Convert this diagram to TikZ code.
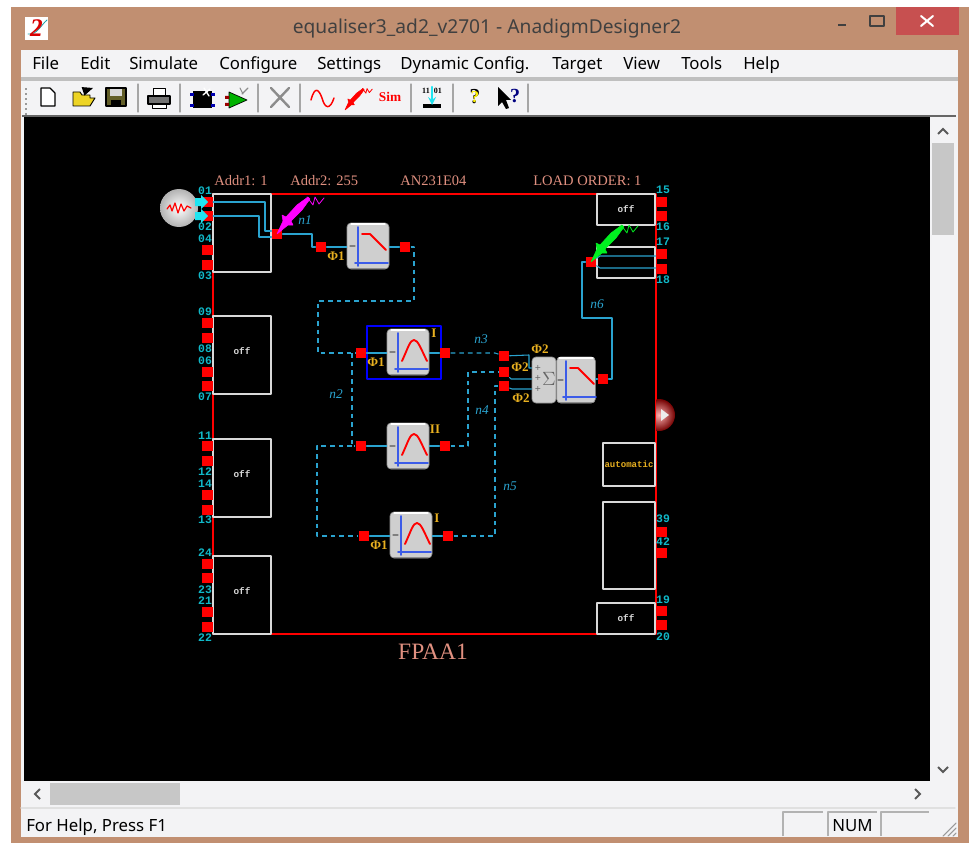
\documentclass[tikz,border=0pt]{standalone}
\usepackage{fontspec}
\setmainfont{Liberation Serif}
\newfontfamily\uifont{Noto Sans}
\newfontfamily\pixfont{Liberation Mono}
\usetikzlibrary{arrows}
\definecolor{framebrown}{HTML}{C18F71}
\definecolor{closered}{HTML}{C75050}
\definecolor{clientgray}{HTML}{F3F3F5}
\definecolor{wirecyan}{HTML}{2AA3CF}
\definecolor{labelcyan}{HTML}{10B8C8}
\definecolor{arrowcyan}{HTML}{20E4F0}
\definecolor{salmon}{HTML}{E09080}
\definecolor{phiyellow}{HTML}{E8B020}
\definecolor{blockgray}{HTML}{CFCFCF}
\definecolor{axisblue}{HTML}{3C5CE8}
\definecolor{probepink}{HTML}{FF00FF}
\definecolor{probegreen}{HTML}{00F020}

\begin{document}
\begin{tikzpicture}[line cap=round,line join=round,>=triangle 45, x=0.75pt, y=-0.75pt]
\tikzset{
    uitext/.style=    {font=\uifont\fontsize{12.6}{14}\selectfont, text=black, inner sep=0pt, anchor=base west},
    padnode/.style=   {fill=red, draw=none, minimum size=8pt, inner sep=0pt},
    padlabel/.style=  {font=\pixfont\bfseries\fontsize{8.6}{9}\selectfont, text=labelcyan, inner sep=0pt},
    headtext/.style=  {font=\fontsize{10.9}{12}\selectfont, text=salmon, inner sep=0pt, anchor=west},
    netname/.style=   {font=\itshape\fontsize{10}{10}\selectfont, text=wirecyan, inner sep=0pt},
    phitext/.style=   {font=\bfseries\fontsize{9.8}{10}\selectfont, text=phiyellow, inner sep=0pt},
    ioframe/.style=   {draw=white!85!black, line width=1pt, fill=black, inner sep=0pt, line cap=butt},
    offtext/.style=   {font=\pixfont\bfseries\fontsize{7}{7}\selectfont, text=white!85!black, inner sep=0pt},
    wire/.style=      {draw=wirecyan, line width=0.8pt},
    dashwire/.style=  {draw=wirecyan, line width=0.8pt, dash pattern=on 3.5pt off 3pt, line cap=butt},
    blocknode/.style= {fill=blockgray, draw=black!30!blockgray, line width=0.5pt, rounded corners=3pt, minimum width=31.5pt, minimum height=34.5pt, inner sep=0pt},
    chevron/.style=   {draw=black!65, line width=1.5pt, line cap=butt, line join=miter},
    lowpass/.pic=     {
        \draw[white, line width=1pt] (-17,-22) -- (17,-22);
        \draw[black!45, line width=1pt] (-17,22.5) -- (17,22.5);
        \draw[gray, line width=0.8pt] (-18,0) -- (-13,0);
        \draw[axisblue, line width=1.3pt] (-10,-19) -- (-10,20);
        \draw[axisblue, line width=1.3pt] (-13,17) -- (20,17);
        \draw[red, line width=1.4pt] (-6,-12) -- (2,-12) -- (18,4);
    },
    bandpass/.pic=    {
        \draw[white, line width=1pt] (-17,-22) -- (17,-22);
        \draw[black!45, line width=1pt] (-17,22.5) -- (17,22.5);
        \draw[gray, line width=0.8pt] (-18,0) -- (-13,0);
        \draw[axisblue, line width=1.3pt] (-10,-19) -- (-10,20);
        \draw[axisblue, line width=1.3pt] (-13,17) -- (20,17);
        \draw[red, line width=1.4pt] (-6,9) .. controls (0,-4) and (2,-12) .. (6,-12) .. controls (10,-12) and (13,-3) .. (19,9);
    },
    probe/.pic=       {
        \fill[pic actions] (0,0) -- (6,-13) -- (5,-19) -- (9,-17) -- (20,-29) -- (31,-37) -- (33,-35) -- (25,-24) -- (14,-13) -- (16,-9) -- (11,-9) -- cycle;
        \draw[pic actions, fill=none, line width=0.6pt] (30,-37) -- (36,-29) -- (38,-37) -- (42,-30) -- (47,-36);
    }
}
\useasboundingbox (0,0) rectangle (974,845);
\fill[white] (0,0) rectangle (974,845);

%% Window frame, menu and toolbar bands
\fill[framebrown] (11,7) rectangle (969,843);
\fill[closered] (896,7) rectangle (959,35);
\fill[clientgray] (21,50) rectangle (958,837);
\fill[black!25] (21,77) rectangle (958,81);
\fill[black!60] (22,115) rectangle (956,117);
\fill[black] (24,117) rectangle (930,781);
\draw[white, line width=1.5pt] (921,16) -- (933,26) (933,16) -- (921,26);
\draw[black!75, line width=1.2pt, line cap=butt] (870,16) rectangle (884,26);
\draw[black!75, line width=1.2pt, line cap=butt] (838,25) -- (846,25);
\node[fill=white, minimum width=17pt, minimum height=17pt, inner sep=0pt] (logobox) at (36.5,28.5) {};
\draw[arrowcyan!70!black, line width=0.6pt] (28,34) .. controls (36,36) and (42,24) .. (47,20);
\node[font=\bfseries\itshape\fontsize{19}{20}\selectfont, text=red!85!black, inner sep=0pt] (logo) at (36.5,28) {2};
\node[font=\uifont\fontsize{14.4}{16}\selectfont, text=black!75, inner sep=0pt] (title) at (487,29) {equaliser3\_ad2\_v2701 - AnadigmDesigner2};
\foreach \name/\x/\s in {mfile/32/File, medit/80/Edit, msim/129/Simulate, mconf/219/Configure, mset/317/Settings, mdyn/400/Dynamic Config., mtarget/552/Target, mview/623/View, mtools/681/Tools, mhelp/743/Help}
    \node[uitext] (\name) at (\x,70) {\s};

%% Toolbar
\foreach \x in {138,180,258,300,411,453,528}
    \draw[black!35, line width=0.8pt] (\x,84) -- (\x,112);
\foreach \y in {88,93,...,113}
    \fill[black!40] (25,\y) rectangle (27,\y+2);
\draw[black, fill=white, line width=0.8pt] (41,88) -- (50,88) -- (55,93) -- (55,106) -- (41,106) -- cycle;
\draw[black, fill=yellow!70!brown, line width=0.7pt] (73,106) -- (73,92) -- (80,92) -- (82,95) -- (90,95) -- (90,98) -- (95,98) -- (90,106) -- cycle;
\draw[black, line width=0.8pt, ->] (84,91) -- (93,88);
\draw[black, fill=olive!60!black, line width=0.8pt] (106,88) rectangle (126,106);
\fill[white!85!black] (110,89) rectangle (122,96);
\fill[black] (111,100) rectangle (121,106);
\draw[black, fill=white, line width=0.7pt] (153,88) rectangle (165,96);
\draw[black, fill=black!55, line width=0.8pt] (148,96) rectangle (170,104);
\draw[black, fill=white, line width=0.7pt] (152,104) rectangle (166,108);
\fill[black] (193,91) rectangle (212,108);
\foreach \y in {93,104} {
    \fill[blue!70!black] (190,\y) rectangle (194,\y+3);
    \fill[blue!70!black] (211,\y) rectangle (215,\y+3);
}
\draw[white, line width=1pt] (204,88) -- (209,96) (210,89) -- (203,95);
\draw[black, fill=green!70!black, line width=0.5pt] (229,92) -- (247,100) -- (229,108) -- cycle;
\draw[black!45, line width=0.8pt] (240,88) -- (243,94) (248,88) -- (242,94);
\fill[red!60!black] (225,96) rectangle (229,99) (225,103) rectangle (229,106);
\draw[black!45, line width=1.8pt] (271,88) -- (289,107) (289,88) -- (271,107);
\draw[red, line width=1.1pt] (311,100) .. controls (315,85) and (319,90) .. (322,98) .. controls (325,109) and (330,110) .. (334,98);
\pic[fill=red, draw=red, scale=0.58] at (345,110) {probe};
\node[font=\bfseries\fontsize{10}{11}\selectfont, text=red, inner sep=0pt] (simicon) at (390,97) {Sim};
\node[font=\bfseries\fontsize{6}{7}\selectfont, inner sep=0pt] (binicon) at (432,91) {11\,\,\,01};
\fill[black] (423,104) rectangle (441,108);
\draw[arrowcyan, line width=1.6pt, ->, >=stealth] (432,87) -- (432,105);
\node[font=\bfseries\fontsize{16}{17}\selectfont, text=black, inner sep=0pt] (helpicon) at (475,97) {?};
\node[font=\bfseries\fontsize{12.5}{13}\selectfont, text=yellow, inner sep=0pt] (helpfill) at (475,97) {?};
\fill[black] (498,87) -- (498,106) -- (502,102) -- (506,109) -- (509,108) -- (506,100) -- (511,100) -- cycle;
\node[font=\bfseries\fontsize{15}{16}\selectfont, text=blue!50!black, inner sep=0pt] (whaticon) at (515,96) {?};

%% Scroll bars and status bar
\fill[black!22] (932,143) rectangle (954,235);
\fill[black!22] (50,783) rectangle (180,805);
\draw[chevron] (938,134) -- (943,129) -- (948,134);
\draw[chevron] (938,767) -- (943,772) -- (948,767);
\draw[chevron] (40,789) -- (35,794) -- (40,799);
\draw[chevron] (915,789) -- (920,794) -- (915,799);
\draw[black!12, line width=1pt] (21,808) -- (955,808);
\draw[black!30, line width=0.8pt, line cap=butt] (783,836) -- (783,812) -- (823,812);
\draw[black!30, line width=0.8pt, line cap=butt] (828,836) -- (828,812) -- (877,812);
\draw[black!30, line width=0.8pt, line cap=butt] (881,836) -- (881,812) -- (929,812);
\node[uitext] (helptext) at (26,831) {For Help, Press F1};
\node[uitext] (numtext) at (832,831) {NUM};
\draw[black!40, line width=0.8pt] (943,836) -- (956,823) (948,836) -- (956,828) (953,836) -- (956,833);

%% Device outline and header
\draw[red, line width=1pt] (213,194) rectangle (656,634);
\foreach \name/\x/\s in {taddr/214/{Addr1: 1}, tsec/290/{Addr2: 255}, tchip/400/{AN231E04}, tload/533/{LOAD ORDER: 1}}
    \node[headtext] (\name) at (\x,181) {\s};
\node[font=\fontsize{17.6}{18}\selectfont, text=salmon, inner sep=0pt] (fpaa) at (433,652) {FPAA1};

%% IO cells
\foreach \name/\xa/\ya/\xb/\yb in {ca/213/194/271/272, cb/213/316/271/394, cc/213/439/271/517, cd/213/556/271/634, ce/597/194/655/225, cf/597/247/655/278, cg/603/443/655/486, ch/603/502/655/589, ci/597/603/655/634}
    \draw[ioframe] (\xa,\ya) rectangle (\xb,\yb);
\foreach \name/\x/\y in {offb/242/351, offc/242/474, offd/242/591, offe/626/209, offi/626/618}
    \node[offtext] (\name) at (\x,\y) {off};
\node[offtext, text=phiyellow, font=\pixfont\bfseries\fontsize{6.8}{7}\selectfont] (autotext) at (629,464) {automatic};

%% Pads of the device
\foreach \n/\y in {la/202,lb/216,lc/250,ld/265,le/323,lf/338,lg/372,lh/386,li/446,lj/461,lk/495,ll/510,lm/564,ln/578,lo/612,lp/627}
    \node[padnode] (\n) at (207.5,\y) {};
\foreach \n/\y in {ra/202,rb/216,rc/254,rd/269,re/532,rf/553,rg/611,rh/625}
    \node[padnode] (\n) at (661.5,\y) {};
\foreach \n/\y in {01/191,02/227,04/239,03/276,09/312,08/349,06/361,07/397,11/436,12/472,14/484,13/520,24/553,23/590,21/601,22/638}
    \node[padlabel] (t\n) at (205,\y) {\n};
\foreach \n/\y in {15/190,16/227,17/242,18/280,39/519,42/542,19/600,20/637}
    \node[padlabel] (t\n) at (663,\y) {\n};

%% Blocks
\draw[blue, line width=1pt, line cap=butt] (367,326) rectangle (441,379);
\node[blocknode] (flta) at (368,246) {};
\node[blocknode] (fltb) at (408,352) {};
\node[blocknode] (fltc) at (408,446) {};
\node[blocknode] (fltd) at (411,535) {};
\node[blocknode, minimum width=18pt] (sumblk) at (544,380) {};
\node[blocknode, minimum width=29pt] (fltsum) at (576,380) {};
\pic at (flta) {lowpass};
\pic at (fltb) {bandpass};
\pic at (fltc) {bandpass};
\pic at (fltd) {bandpass};
\begin{scope}[xscale=0.9]
\pic at (640,380) {lowpass};
\end{scope}
\node[font=\fontsize{15}{16}\selectfont, text=black!60, inner sep=0pt] (sigma) at (549,379) {$\Sigma$};
\node[font=\bfseries\fontsize{8}{8}\selectfont, text=black!60, inner sep=0pt, align=center] (plusa) at (538,368) {+};
\node[font=\bfseries\fontsize{8}{8}\selectfont, text=black!60, inner sep=0pt, align=center] (plusb) at (538,378) {+};
\node[font=\bfseries\fontsize{8}{8}\selectfont, text=black!60, inner sep=0pt, align=center] (plusc) at (538,389) {+};

%% Block pads
\foreach \n/\x/\y in {pnet/277/234, pina/321/247, pouta/405/247, pinb/361/353, poutb/445/353, pinc/361/446, poutc/445/446, pind/364/536, poutd/448/536, psuma/504/356, psumb/504/372, psumc/504/386, poutsum/603/379, pmon/591/262}
    \node[padnode] (\n) at (\x,\y) {};

%% Source and right marker
\shade[inner color=white, outer color=black!30] (179,208) circle (19);
\draw[red, line width=0.9pt] (167,209) -- (170,205) -- (172,211) -- (175,203) -- (178,213) -- (181,204) -- (184,211) -- (187,206) -- (191,208);
\fill[arrowcyan] (195,198) -- (201,198) -- (201,195) -- (208,202) -- (201,209) -- (201,206) -- (195,206) -- cycle;
\fill[arrowcyan] (195,212) -- (201,212) -- (201,209) -- (208,216) -- (201,223) -- (201,220) -- (195,220) -- cycle;
\begin{scope}
\clip (656.5,390) rectangle (680,440);
\shade[inner color=white!70!red, outer color=red!45!black] (659,415) circle (16);
\end{scope}
\fill[white!85!gray] (661,409) -- (669,415) -- (661,421) -- cycle;

%% Solid nets
\coordinate (bendone) at (265,231);
\coordinate (bendtwo) at (259,237);
\draw[wire] (la) -| (bendone) -- (pnet.west|-bendone);
\draw[wire] (lb) -| (bendtwo) -- (pnet.west|-bendtwo);
\coordinate (bendthree) at (312,247);
\draw[wire] (pnet) -| (bendthree) -- (pina);
\draw[wire] (pina) -- (pina-|flta.west);
\draw[wire] (pouta-|flta.east) -- (pouta);
\draw[wire] (pinb) -- (pinb-|fltb.west);
\draw[wire] (poutb-|fltb.east) -- (poutb);
\draw[wire] (pinc) -- (pinc-|fltc.west);
\draw[wire] (poutc-|fltc.east) -- (poutc);
\draw[wire] (pind) -- (pind-|fltd.west);
\draw[wire] (poutd-|fltd.east) -- (poutd);
\coordinate (bendsa) at (529,355);
\coordinate (bendsb) at (511,379);
\coordinate (bendsc) at (512,389);
\draw[wire] (psuma) -- (bendsa) -- (529,368) -- (sumblk.west|-0,368);
\draw[wire] (psumb) -- (bendsb) -- (sumblk.west|-bendsb);
\draw[wire] (psumc) -- (bendsc) -- (sumblk.west|-bendsc);
\draw[wire] (poutsum-|fltsum.east) -- (poutsum);
\coordinate (bendoa) at (612,318);
\coordinate (bendob) at (582,318);
\draw[wire] (poutsum) -| (bendoa) -- (bendob) |- (pmon);
\draw[wire] (pmon) -- (600,256) -- (rc.west|-0,256);
\draw[wire] (pmon) -- (600,268) -- (rd.west|-0,268);

%% Dashed nets
\coordinate (dasha) at (414,301);
\coordinate (dashb) at (318,301);
\draw[dashwire] (pouta) -| (dasha) -- (dashb) |- (pinb);
\coordinate (dashc) at (352,353);
\draw[dashwire] (dashc) |- (pinc);
\coordinate (dashd) at (317,446);
\draw[dashwire] (dashc|-pinc) -- (dashd) |- (pind);
\coordinate (dashe) at (495,353);
\draw[dashwire] (poutb) -- (dashe) -- (psuma);
\coordinate (dashf) at (468,372);
\draw[dashwire] (poutc) -| (dashf) -- (psumb);
\coordinate (dashg) at (495,386);
\draw[dashwire] (poutd) -| (dashg) -- (psumc);

%% Probes on the nets
\pic[fill=probepink, draw=probepink] at (pnet) {probe};
\pic[fill=probegreen, draw=probegreen] at (pmon) {probe};

%% Net names and clock labels
\foreach \n/\x/\y/\s in {nna/305/220/n1, nnb/336/394/n2, nnc/481/339/n3, nnd/482/410/n4, nne/510/486/n5, nnf/597/304/n6}
    \node[netname] (\n) at (\x,\y) {\s};
\foreach \n/\x/\y/\s in {phia/336/256/1, phib/376/362/1, phic/379/545/1, phid/540/349/2, phie/520/367/2, phif/521/398/2}
    \node[phitext] (\n) at (\x,\y) {Φ\s};
\foreach \n/\x/\y/\s in {romana/434/333/I, romanb/435/429/II, romanc/437/518/I}
    \node[phitext] (\n) at (\x,\y) {\s};
\end{tikzpicture}
\end{document}
